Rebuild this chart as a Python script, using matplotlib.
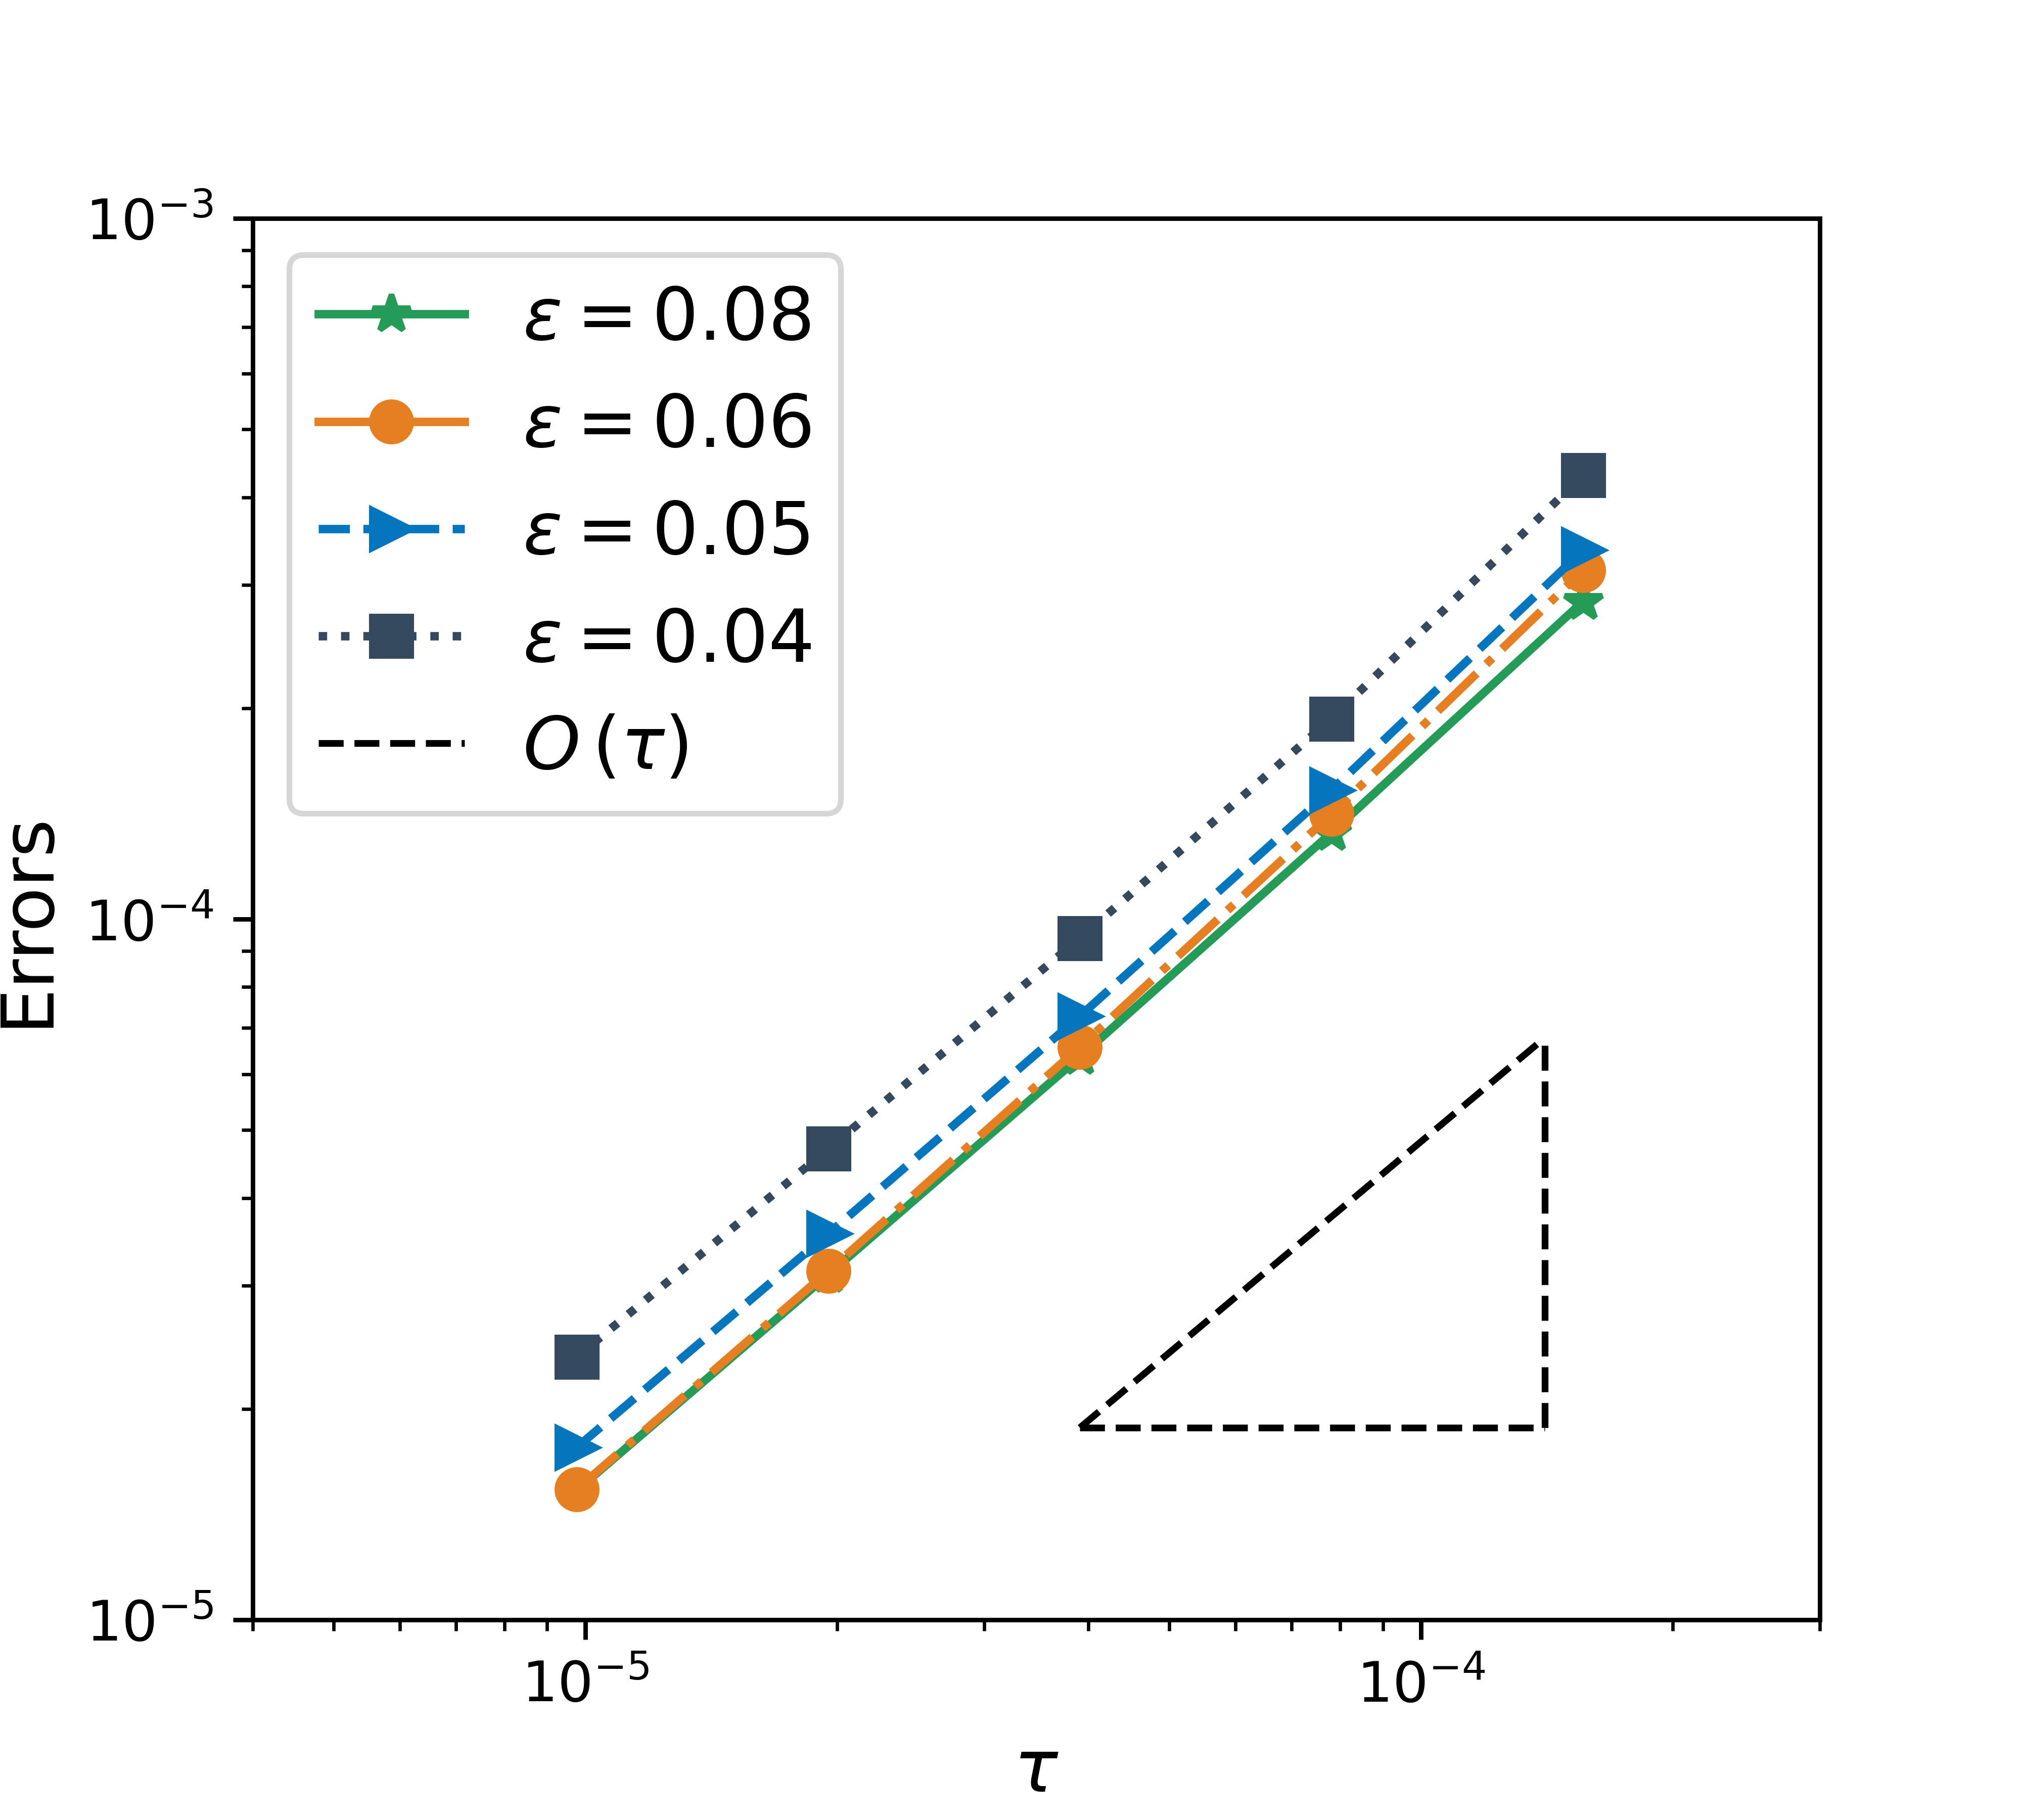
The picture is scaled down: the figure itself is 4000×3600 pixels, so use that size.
import matplotlib
matplotlib.use("Agg")
import matplotlib.pyplot as plt

# ---- data ----
tau = [9.765625e-6, 1.953125e-5, 3.90625e-5, 7.8125e-5, 1.5625e-4]
err_eps008 = [1.53e-5, 3.11e-5, 6.36e-5, 1.328e-4, 2.84e-4]
err_eps006 = [1.535e-5, 3.145e-5, 6.57e-5, 1.412e-4, 3.145e-4]
err_eps005 = [1.762e-5, 3.556e-5, 7.27e-5, 1.528e-4, 3.36e-4]
err_eps004 = [2.372e-5, 4.70e-5, 9.39e-5, 1.932e-4, 4.297e-4]

labels = [r'$\varepsilon = 0.08$', r'$\varepsilon = 0.06$',
          r'$\varepsilon = 0.05$', r'$\varepsilon = 0.04$']
ref_label = r'$O\,(\tau)$'

# reference slope triangle
tri_x = [3.90625e-5, 1.40625e-4]
tri_y = [1.88e-5, 6.77e-5]

colors = ['#249b57', '#e67e22', '#0476bd', '#34495e']

fig, ax = plt.subplots(figsize=(5, 4.5), dpi=800)

ax.loglog(tau, err_eps008, '-', marker='*', color=colors[0], lw=1.5, ms=7, label=labels[0])
ax.loglog(tau, err_eps006, '-.', marker='o', color=colors[1], lw=1.5, ms=7, label=labels[1])
ax.loglog(tau, err_eps005, '--', marker='>', color=colors[2], lw=1.5, ms=7, label=labels[2])
ax.loglog(tau, err_eps004, ':', marker='s', color=colors[3], lw=1.5, ms=7, label=labels[3])

ax.loglog(tri_x, tri_y, 'k--', lw=1.2, label=ref_label)
ax.loglog(tri_x, [tri_y[0], tri_y[0]], 'k--', lw=1.2)
ax.loglog([tri_x[1], tri_x[1]], tri_y, 'k--', lw=1.2)

ax.set_xlim(4e-6, 3e-4)
ax.set_ylim(1e-5, 1e-3)
ax.set_xlabel(r'$\tau$', fontsize=13)
ax.set_ylabel('Errors', fontsize=13)

leg = ax.legend(loc='upper left', fontsize=13)
leg.get_lines()[1].set_linestyle('-')

fig.savefig('out.png', dpi=800)
